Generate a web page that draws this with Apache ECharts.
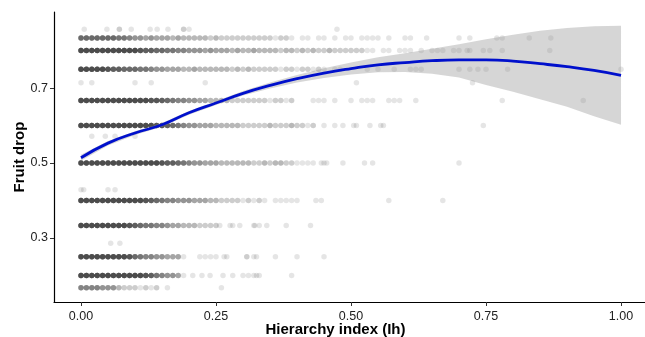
<!DOCTYPE html>
<html>
<head>
<meta charset="utf-8">
<script src="https://cdn.jsdelivr.net/npm/echarts@6/dist/echarts.min.js"></script>
<style>
  html, body { margin: 0; padding: 0; background: #fff; }
  #chart { width: 645px; height: 337px; }
</style>
</head>
<body>
<div id="chart"></div>
<script>
// Observed fruit-drop levels (y) in the scatter
const levels = [0.8571, 0.8333, 0.8, 0.75, 0.7143, 0.6667, 0.6, 0.5714, 0.5, 0.4286, 0.4, 0.3333, 0.2857, 0.25, 0.2, 0.1667];

// Number of overlapping points at x = 0.00, 0.01, 0.02, ... per level (dense part)
const denseCounts = [
  [],
  [8,8,8,8,8,8,8,7,7,6, 5,5,4,5,4,4,4,3,4,3,3,3,3, 3,2,3,2,2,2,2,2,2,2,2, 2,2,1,2,2,1],
  [11,11,11,11,11,11,11,11,11,11,11, 10,9,9,8,8,7,7, 6,6,5,5,5,4,5,4,4,4,3,4,3,3,4,3, 3,3,3,2,3,3,2,3,2,3,2,2,3,2,2,2,2,2,2, 1,1,0,1,1,0,1,1,1,0,1,0,1,1],
  [11,11,11,11,11,10, 9,9,8,8,8,7,7,6, 5,5,4,4,4,3,3,4,3,3,3,3,3,3,2,3,2,3,2,2, 2,2,2,1,2,2,1,2,2,1,2,1],
  [],
  [11,11,11,11,11,11,11,11,11,11,11,11,11, 10,10,9, 8,7,6,6,5,5,4,4, 3,3,3,3,2,2,2,2,2,2, 2,1,2,2,1,2],
  [11,11,11,11,11,11,11,11,11,11,11,11,11,11, 10,10,9, 8,7,6,5,5,4,4,4,3,3,3,3,3,2,2,2,2, 2,3,2,2,2,3,2,2,1,2],
  [],
  [11,11,11,11,11,11,11,11,11,11,11,11,11,11,11, 10,9,9,8, 7,6,5,5,4,4,4,3,3,3,3,3,3,2,2, 3,2,3,3,2,2, 1,1,1,1],
  [],
  [11,11,11,11,11,11,11,11,11,11,11,11, 10,9, 8,7,6,6,5,5,5,4,4,4,3, 3,2,2,2,2,1,2,1,2, 1],
  [11,11,11,11,11,11,11,11,11,10, 9,8,7,7,6,6, 5,4,4,3,3,3,2,2,2,2],
  [],
  [11,11,11,11,11,11,11,11,11,10, 8,7,6,6,5,5,4,4,4],
  [11,11,11,11,11,11,11,11,11,11,11,11, 10,9, 7,6,5,5,4],
  [6,6,6,6,5,5,5, 3,2,2,2,1,2,1,2,0,1]
];

// Scattered single points (x) per level
const sparseX = [
  [0.006,0.048,0.071,0.071,0.093,0.128,0.141,0.161,0.19,0.19,0.20,0.474],
  [0.41,0.42,0.44,0.45,0.47,0.49,0.50,0.52,0.53,0.54,0.55,0.57,0.60,0.61,0.64,0.70,0.72,0.77,0.78,0.83,0.87],
  [0.67,0.69,0.70,0.715,0.72,0.745,0.757,0.78,0.868],
  [0.47,0.48,0.53,0.55,0.58,0.61,0.62,0.63,0.70,0.72,0.735,0.75,0.79,1.0],
  [0.0,0.02,0.10,0.13,0.23,0.51,0.725],
  [0.43,0.44,0.45,0.47,0.50,0.52,0.53,0.54,0.57,0.58,0.59,0.62,0.78,0.93],
  [0.45,0.47,0.485,0.505,0.51,0.535,0.555,0.56,0.745],
  [0.02,0.045,0.063,0.10],
  [0.445,0.45,0.455,0.485,0.525,0.54,0.70],
  [0.0,0.005,0.05,0.063],
  [0.36,0.37,0.38,0.39,0.40,0.435,0.445,0.57,0.67],
  [0.257,0.276,0.281,0.294,0.32,0.322,0.33,0.344,0.38,0.425],
  [0.055,0.072],
  [0.19,0.22,0.23,0.24,0.25,0.265,0.27,0.307,0.307,0.32,0.325,0.36,0.40,0.45],
  [0.19,0.207,0.224,0.239,0.263,0.281,0.30,0.31,0.32,0.325,0.33,0.39],
  [0.26]
];

// Smoothed fit with confidence band
const fitX     = [0, 0.05, 0.10, 0.15, 0.20, 0.25, 0.30, 0.35, 0.40, 0.45, 0.50, 0.55, 0.60, 0.65, 0.70, 0.75, 0.80, 0.85, 0.90, 0.95, 1.00];
const fitY     = [0.514,0.553,0.580,0.602,0.634,0.660,0.686,0.707,0.725,0.740,0.752,0.762,0.768,0.773,0.775,0.775,0.772,0.765,0.757,0.747,0.734];
const fitLower = [0.506,0.547,0.575,0.597,0.629,0.655,0.680,0.699,0.715,0.727,0.736,0.742,0.743,0.738,0.728,0.708,0.690,0.670,0.650,0.625,0.602];
const fitUpper = [0.522,0.559,0.585,0.607,0.639,0.665,0.692,0.715,0.735,0.753,0.768,0.782,0.793,0.805,0.817,0.830,0.842,0.853,0.860,0.865,0.866];

const xTicks = [0, 0.25, 0.5, 0.75, 1.0];
const yTicks = [0.3, 0.5, 0.7];

// Build scatter points
const points = [];
levels.forEach((y, i) => {
  denseCounts[i].forEach((n, j) => {
    const x = +(j * 0.01).toFixed(2);
    for (let k = 0; k < n; k++) points.push([x, y]);
  });
  sparseX[i].forEach((x) => points.push([x, y]));
});

const chart = echarts.init(document.getElementById('chart'), null, { renderer: 'canvas' });
const font = '"Liberation Sans", Arial, Helvetica, sans-serif';
const axisColor = '#000';

// confidence band drawn as one polygon: upper edge forward, lower edge back
function renderBand(params, api) {
  if (params.dataIndex !== 0) return;
  const pts = [];
  for (let i = 0; i < fitX.length; i++) pts.push(api.coord([fitX[i], fitUpper[i]]));
  for (let i = fitX.length - 1; i >= 0; i--) pts.push(api.coord([fitX[i], fitLower[i]]));
  return {
    type: 'polygon',
    shape: { points: pts },
    style: { fill: 'rgba(153,153,153,0.4)' },
    silent: true
  };
}

const option = {
  animation: false,
  backgroundColor: '#fff',
  grid: { left: 54, right: 0, top: 12, bottom: 35, outerBoundsMode: 'none' },
  xAxis: {
    type: 'value',
    min: -0.05,
    max: 1.0444,
    name: 'Hierarchy index (Ih)',
    nameLocation: 'middle',
    nameGap: 20,
    nameMoveOverlap: false,
    nameTextStyle: { fontFamily: font, fontSize: 15, fontWeight: 'bold', color: '#000', padding: [0, 28, 0, 0] },
    axisLine: { onZero: false, lineStyle: { color: axisColor, width: 1.2 } },
    axisTick: { show: true, length: 4, lineStyle: { color: '#333' }, customValues: xTicks },
    axisLabel: {
      fontFamily: font, fontSize: 12.5, color: '#222', margin: 8,
      customValues: xTicks,
      formatter: (v) => v.toFixed(2)
    },
    splitLine: { show: false }
  },
  yAxis: {
    type: 'value',
    min: 0.129,
    max: 0.903,
    name: 'Fruit drop',
    nameLocation: 'middle',
    nameGap: 27,
    nameRotate: 90,
    nameMoveOverlap: false,
    nameTextStyle: { fontFamily: font, fontSize: 15, fontWeight: 'bold', color: '#000' },
    axisLine: { show: true, onZero: false, lineStyle: { color: axisColor, width: 1.2 } },
    axisTick: { show: true, length: 4, lineStyle: { color: '#333' }, customValues: yTicks },
    axisLabel: {
      fontFamily: font, fontSize: 12.5, color: '#222', margin: 6,
      customValues: yTicks,
      formatter: (v) => v.toFixed(1)
    },
    splitLine: { show: false }
  },
  series: [
    {
      type: 'scatter',
      data: points,
      symbolSize: 5.5,
      silent: true,
      itemStyle: { color: '#000', opacity: 0.1 },
      z: 1
    },
    {
      type: 'custom',
      data: fitX.map((x, i) => [x, fitY[i]]),
      renderItem: renderBand,
      silent: true,
      z: 2
    },
    {
      type: 'line',
      data: fitX.map((x, i) => [x, fitY[i]]),
      smooth: true,
      symbol: 'none',
      silent: true,
      lineStyle: { color: '#0010cc', width: 2.8 },
      z: 3
    }
  ]
};

chart.setOption(option);
</script>
</body>
</html>
